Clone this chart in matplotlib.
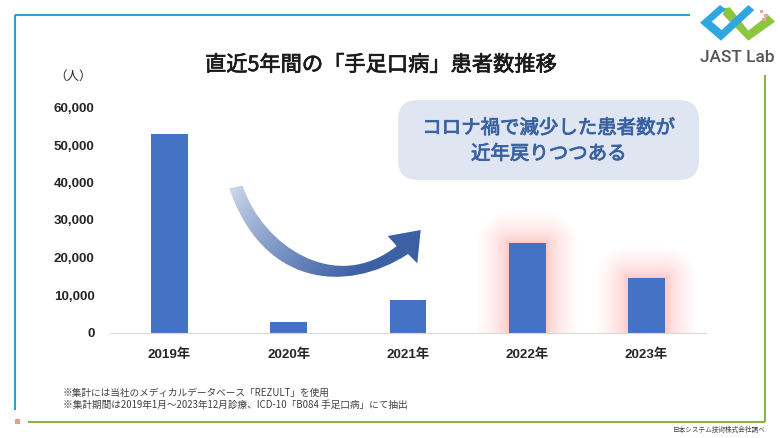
import matplotlib

matplotlib.use("Agg")
import matplotlib.patheffects as pe
import matplotlib.pyplot as plt
import numpy as np
from matplotlib.patches import FancyBboxPatch, PathPatch, Polygon, Rectangle
from matplotlib.path import Path
from matplotlib.transforms import ScaledTranslation

plt.rcParams["font.family"] = ["Noto Sans CJK JP", "DejaVu Sans"]

W, H = 780, 438

years = ["2019年", "2020年", "2021年", "2022年", "2023年"]
patients = [53100, 2900, 8800, 24000, 14700]
y_ticks = [0, 10000, 20000, 30000, 40000, 50000, 60000]
glow_years = ["2022年", "2023年"]

title = "直近5年間の「手足口病」患者数推移"
callout = "コロナ禍で減少した患者数が\n近年戻りつつある"
notes = [
    "※集計には当社のメディカルデータベース「REZULT」を使用",
    "※集計期間は2019年1月～2023年12月診療、ICD-10「B084 手足口病」にて抽出",
]
credit = "日本システム技術株式会社調べ"

BAR = "#4472c4"
BLUE_LINE = "#2f9fc9"
GREEN_LINE = "#8db33f"
TICK_FONT = ["Liberation Sans", "Noto Sans CJK JP"]


def semibold(color, width=0.35):
    # the CJK family only has regular and bold here
    return [pe.withStroke(linewidth=width, foreground=color)]


fig = plt.figure(figsize=(W / 100, H / 100), dpi=100, facecolor="white")

# overlay in pixel coords for the slide furniture
bg = fig.add_axes([0, 0, 1, 1])
bg.set_xlim(0, W)
bg.set_ylim(H, 0)
bg.axis("off")

# frame lines
bg.plot([15, 690], [15, 15], color=BLUE_LINE, lw=1.5, solid_capstyle="butt")
bg.plot([15, 15], [15, 410], color=BLUE_LINE, lw=1.5, solid_capstyle="butt")
bg.plot([765, 765], [75, 422], color=GREEN_LINE, lw=1.5, solid_capstyle="butt")
bg.plot([28, 765], [422, 422], color=GREEN_LINE, lw=1.5, solid_capstyle="butt")
bg.add_patch(Rectangle((15, 419), 4.5, 4.5, color="#d9a58c", lw=0))

# logo
bg.add_patch(Polygon([(723.3, 8.3), (730, 7.3), (748.3, 30.7), (768.3, 15), (775, 21.7),
                      (748.3, 40.7), (723.3, 15)], color="#8cc63f", lw=0))
bg.add_patch(Polygon([(720, 5), (700, 22.7), (721, 40.7), (754.3, 10), (748.3, 5),
                      (721.7, 30), (711.7, 21.7), (725.7, 9.3)], color="#2ea7e0", lw=0))
for sx, sy in [(761.7, 11.7), (766, 15.7), (764, 19.3)]:
    bg.add_patch(Rectangle((sx - 1.7, sy - 1.7), 3.4, 3.4, color="#e3a99b", lw=0))
bg.text(737, 57, "JAST Lab", fontsize=12.4, color="#555555", ha="center", va="center",
        family=["Roboto", "DejaVu Sans"], fontweight="medium")

# chart
ax = fig.add_axes([110 / W, 1 - 333 / H, 596 / W, 225 / H])
ax.patch.set_alpha(0)
x = np.arange(len(years))
ax.set_xlim(-0.5, len(years) - 0.5)
ax.set_ylim(0, 60000)

# soft red glow behind the last two bars, clipped at the baseline
glow_h = [patients[years.index(y)] for y in glow_years]
glow_x = [years.index(y) for y in glow_years]
for t in np.linspace(1, 0.1, 30):
    ax.bar(glow_x, glow_h, width=0.31, facecolor="none", edgecolor="#ff4a3d",
           linewidth=46 * t ** 2, alpha=0.0075, joinstyle="round", zorder=1)
ax.bar(x, patients, width=0.31, color=BAR, zorder=2)

ax.set_xticks(x, years)
ax.set_yticks(y_ticks, [f"{v:,}" for v in y_ticks])
ax.tick_params(length=0, labelsize=9.6, labelcolor="#262626")
ax.tick_params(axis="x", pad=11.5)
ax.tick_params(axis="y", pad=11)
up = ScaledTranslation(0, 0.5 / 100, fig.dpi_scale_trans)
for lab in ax.get_yticklabels():
    lab.set_family(TICK_FONT)
    lab.set_fontweight("bold")
    lab.set_transform(lab.get_transform() + up)
for lab in ax.get_xticklabels():
    lab.set_family(TICK_FONT)
    lab.set_fontweight("bold")
for name in ["top", "right", "left"]:
    ax.spines[name].set_visible(False)
ax.spines["bottom"].set_color("#d9d9d9")
ax.spines["bottom"].set_linewidth(0.8)

# overlay on top of the chart
fg = fig.add_axes([0, 0, 1, 1])
fg.set_xlim(0, W)
fg.set_ylim(H, 0)
fg.axis("off")

fg.text(381, 65, title, fontsize=15.3, color="#1a1a1a", ha="center", va="center",
        path_effects=semibold("#1a1a1a", 0.5))
fg.text(73, 76, "（人）", fontsize=9, color="#262626", ha="center", va="center")

fg.add_patch(FancyBboxPatch((398, 100), 301, 80, boxstyle="round,pad=0,rounding_size=20",
                            facecolor="#dfe6f2", edgecolor="none"))
fg.text(549, 141, callout, fontsize=14, color="#3a62a3", ha="center", va="center",
        linespacing=1.3, path_effects=semibold("#3a62a3", 0.6))

# curved arrow with a left-to-right gradient
verts = [(229.3, 188.3), (242.7, 185.7), (262, 245), (335, 295), (396.7, 246),
         (387.7, 236), (420.7, 230), (417.3, 263.3), (408, 254),
         (345, 295), (262, 285), (229.3, 188.3)]
codes = [Path.MOVETO, Path.LINETO, Path.CURVE4, Path.CURVE4, Path.CURVE4,
         Path.LINETO, Path.LINETO, Path.LINETO, Path.LINETO,
         Path.CURVE4, Path.CURVE4, Path.CURVE4]
arrow = PathPatch(Path(verts, codes), facecolor="none", edgecolor="none")
fg.add_patch(arrow)
gx, gy = np.meshgrid(np.linspace(0, 1, 200), np.linspace(0, 1, 100))
grad = np.clip(0.95 * gx + 0.4 * gy, 0, 1) ** 0.8
c0, c1 = np.array([0.87, 0.90, 0.95]), np.array([0.24, 0.38, 0.65])
rgb = c0 + (c1 - c0) * grad[..., None]
img = fg.imshow(rgb, extent=(225, 425, 280, 180), aspect="auto", zorder=3)
img.set_clip_path(arrow)
fg.set_xlim(0, W)
fg.set_ylim(H, 0)

for yy, note in zip([393, 405], notes):
    fg.text(63, yy, note, fontsize=6.95, color="#404040", ha="left", va="center")
fg.text(766, 430, credit, fontsize=4.8, color="#404040", ha="right", va="center")

fig.savefig("out.png", dpi=100, facecolor="white")
